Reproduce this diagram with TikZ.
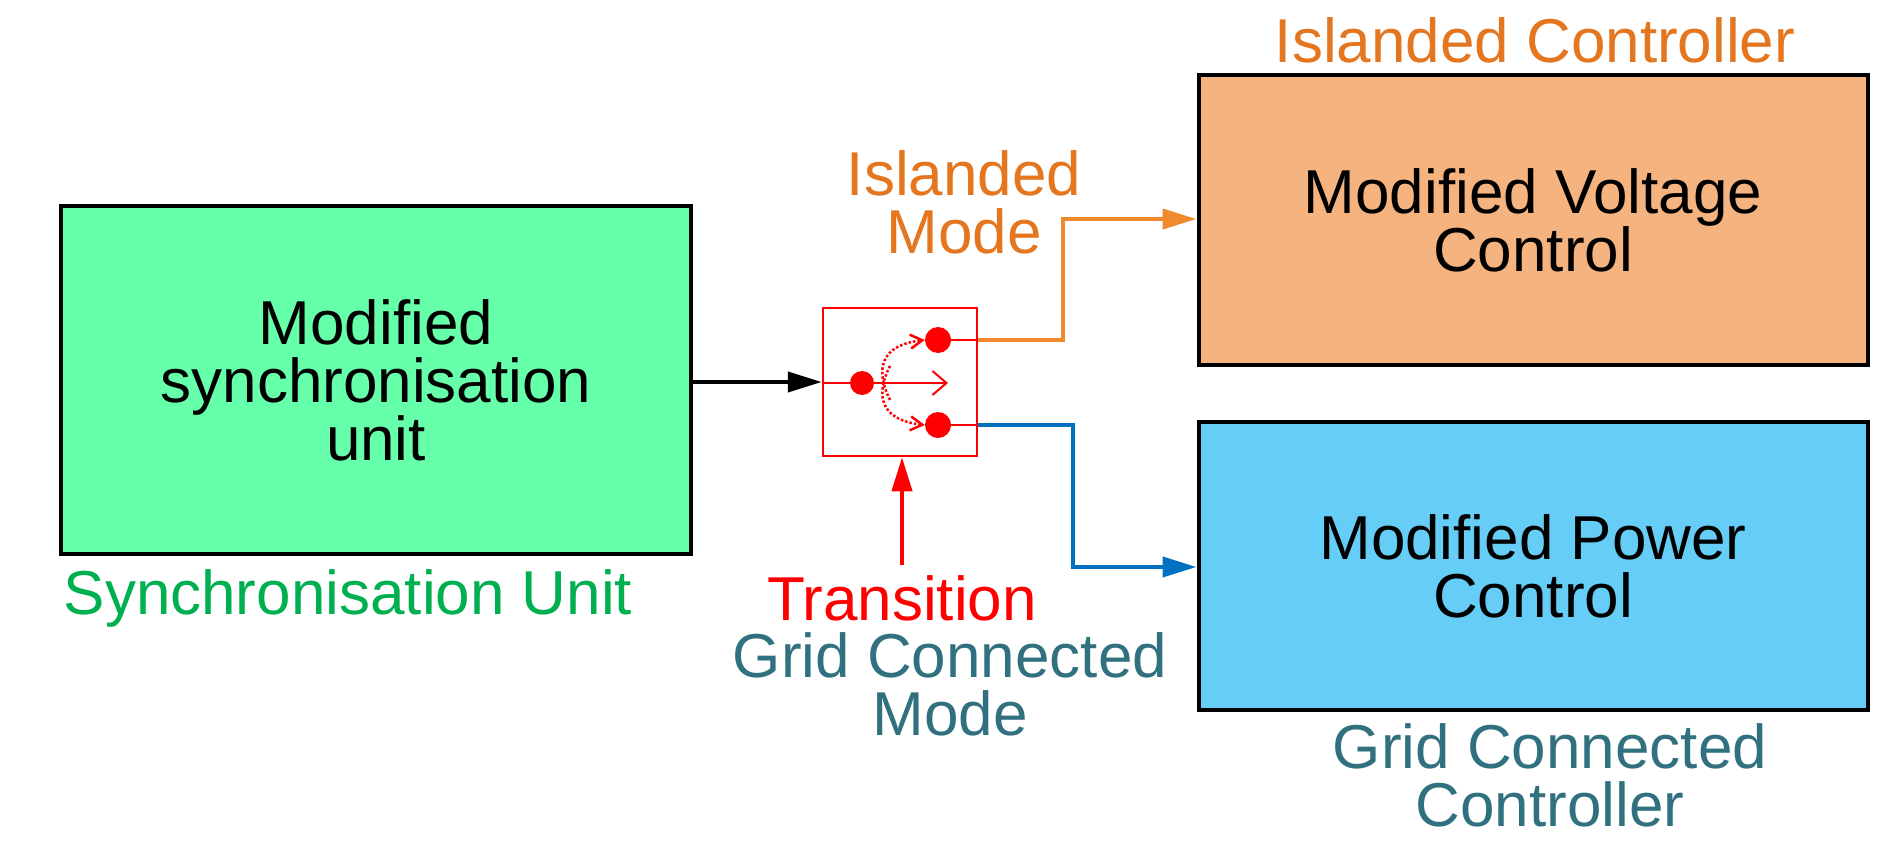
\documentclass[tikz,border=0pt]{standalone}
\usepackage{fontspec}
\setmainfont{Liberation Sans}
\usetikzlibrary{arrows.meta,calc}
\definecolor{boxgreen}{HTML}{66FFAA}
\definecolor{boxorange}{HTML}{F4B37F}
\definecolor{boxblue}{HTML}{66CDF6}
\definecolor{txtgreen}{HTML}{00B050}
\definecolor{txtorange}{HTML}{E4761F}
\definecolor{txtteal}{HTML}{31717F}
\definecolor{lineorange}{HTML}{F08A2E}
\definecolor{lineblue}{HTML}{0070C0}
\begin{document}
\begin{tikzpicture}[x=1pt,y=-1pt,
  txt/.style={font=\fontsize{62}{58}\selectfont, align=center, inner sep=0pt},
  blk/.style={draw=black, line width=4pt, align=center, txt},
  wire/.style={line width=4pt, -{Triangle[length=34pt,width=20pt]}},
  dot/.style={circle, fill=red, minimum width=26pt, minimum height=22pt, inner sep=0pt}
]
\useasboundingbox (0,0) rectangle (1899,853);
% blocks
\node[blk, fill=boxgreen, minimum width=630pt, minimum height=347pt] (sync) at (376,380) {Modified\\synchronisation\\unit};
\node[blk, fill=boxorange, minimum width=669pt, minimum height=290pt] (volt) at (1533,220) {Modified Voltage\\Control};
\node[blk, fill=boxblue, minimum width=669pt, minimum height=288pt] (pow) at (1533,566) {Modified Power\\Control};
% switch
\node[draw=red, line width=2.5pt, minimum width=154pt, minimum height=148pt, inner sep=0pt] (sw) at (900,382) {};
\node[dot, minimum width=24pt] (din) at (862,383) {};
\node[dot] (dup) at (938,340) {};
\node[dot] (ddn) at (938,425) {};
\draw[red, line width=2pt] (sw.west |- din) -- (din);
\draw[red, line width=2pt, -{Straight Barb[length=14pt,width=24pt]}] (din) -- (948,383);
\draw[red, line width=2pt] (dup) -- (sw.east |- dup);
\draw[red, line width=2pt] (ddn) -- (sw.east |- ddn);
\draw[red, line width=2.5pt, dotted, -{Straight Barb[length=12pt,width=14pt]}] (890,400) .. controls (875,370) and (880,345) .. (dup.west);
\draw[red, line width=2.5pt, dotted, -{Straight Barb[length=12pt,width=14pt]}] (890,366) .. controls (875,395) and (880,420) .. (ddn.west);
% connectors
\draw[wire, black] (sync.east |- sw.west) -- (sw.west);
\coordinate (ob) at (1063,340);
\coordinate (bb) at (1073,425);
\draw[wire, lineorange] (sw.east |- dup) -- (ob) -- (ob |- 0,219) -- (volt.west |- 0,219);
\draw[wire, lineblue] (sw.east |- ddn) -- (bb) -- (bb |- 0,567) -- (pow.west |- 0,567);
\coordinate (tr) at (902,565);
\draw[wire, red] (tr) -- (tr |- sw.south);
% labels
\node[txt, text=txtorange] (lic) at (1535,40) {Islanded Controller};
\node[txt, text=txtorange] (lim) at (964,202) {Islanded\\Mode};
\node[txt, text=txtgreen] (lsu) at (348,598) {Synchronisation Unit};
\node[txt, text=red] (ltr) at (902,598) {Transition};
\node[txt, text=txtteal] (lgm) at (950,684) {Grid Connected\\Mode};
\node[txt, text=txtteal] (lgc) at (1550,775) {Grid Connected\\Controller};
\end{tikzpicture}
\end{document}
